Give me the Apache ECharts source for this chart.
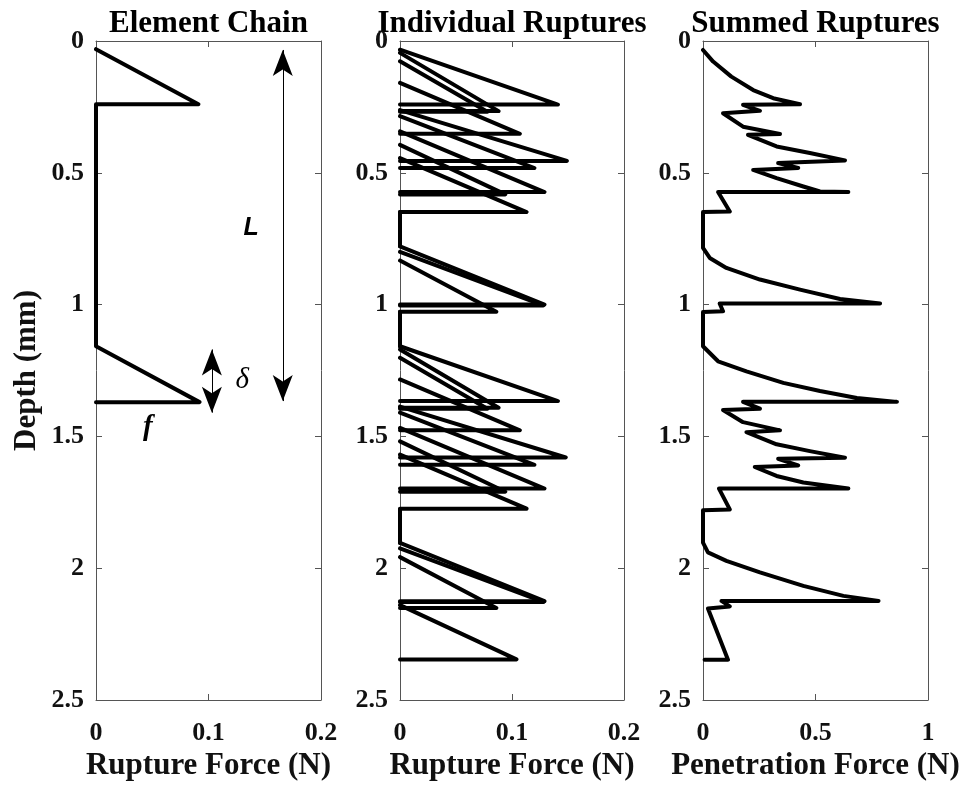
<!DOCTYPE html>
<html><head><meta charset="utf-8">
<script src="https://cdn.jsdelivr.net/npm/echarts/dist/echarts.min.js"></script>
<style>html,body{margin:0;padding:0;background:#fff}#c{width:963px;height:789px}</style>
</head><body><div id="c"></div><script>
// ---- data ----
const panelTitles = ['Element Chain', 'Individual Ruptures', 'Summed Ruptures'];
const xAxisNames = ['Rupture Force (N)', 'Rupture Force (N)', 'Penetration Force (N)'];
const xMax = [0.2, 0.2, 1];
const xStep = [0.1, 0.1, 0.5];
const depthMax = 2.5, depthStep = 0.5;

// panel 1: single element chain
const chainForce = [0, 0.091, 0, 0, 0.092, 0];
const chainDepth = [0.031, 0.240, 0.240, 1.158, 1.370, 1.370];

// panel 1 annotations (arrow tips in data units)
const arrowL = [0.166, 0.034, 1.366];   // x, tip top, tip bottom
const arrowDelta = [0.103, 1.170, 1.410];
const noteText = ['L', 'δ', 'f'];
const noteX = [0.138, 0.130, 0.046];
const noteY = [0.708, 1.288, 1.466];

// panel 2: individual ruptures (start depth -> peak force at peak depth -> back to 0)
const ruptureStart = [0.033, 0.045, 0.077, 0.159, 0.262, 0.285, 0.343, 0.394, 0.444,
                      0.779, 0.800, 0.833,
                      1.158, 1.170, 1.202, 1.284, 1.387, 1.410, 1.468, 1.519, 1.569,
                      1.904, 1.925, 1.958,
                      2.140];
const rupturePeak  = [0.241, 0.266, 0.268, 0.352, 0.455, 0.482, 0.573, 0.582, 0.649,
                      1.000, 1.003, 1.027,
                      1.366, 1.391, 1.395, 1.477, 1.580, 1.608, 1.698, 1.710, 1.774,
                      2.125, 2.128, 2.151,
                      2.346];
const ruptureForce = [0.141, 0.088, 0.078, 0.107, 0.149, 0.120, 0.129, 0.094, 0.113,
                      0.129, 0.128, 0.086,
                      0.141, 0.088, 0.078, 0.107, 0.148, 0.120, 0.129, 0.094, 0.113,
                      0.129, 0.128, 0.086,
                      0.104];
const zeroGapFrom = [0.649, 1.027, 1.776];
const zeroGapTo   = [0.779, 1.158, 1.904];

// panel 3: summed ruptures
const summedForce = [0, 0.045, 0.126, 0.223, 0.312, 0.431, 0.178, 0.253, 0.089, 0.178, 0.342, 0.200,
  0.327, 0.475, 0.631, 0.334, 0.423, 0.223, 0.327, 0.446, 0.520, 0.646, 0.067, 0.119, 0, 0,
  0.030, 0.104, 0.253, 0.431, 0.609, 0.787, 0.074, 0.089, 0, 0,
  0.067, 0.193, 0.357, 0.520, 0.684, 0.862, 0.178, 0.253, 0.089, 0.178, 0.342, 0.193,
  0.327, 0.475, 0.631, 0.334, 0.423, 0.230, 0.327, 0.446, 0.646, 0.071, 0.119, 0, 0,
  0.022, 0.104, 0.253, 0.446, 0.624, 0.780, 0.082, 0.119, 0.022, 0.111, 0.007];
const summedDepth = [0.034, 0.078, 0.135, 0.186, 0.217, 0.240, 0.242, 0.265, 0.274, 0.325, 0.353, 0.356,
  0.400, 0.425, 0.453, 0.463, 0.482, 0.489, 0.520, 0.552, 0.571, 0.573, 0.573, 0.647, 0.649, 0.785,
  0.823, 0.861, 0.905, 0.943, 0.979, 0.996, 0.996, 1.025, 1.028, 1.158,
  1.215, 1.253, 1.297, 1.328, 1.354, 1.369, 1.369, 1.395, 1.400, 1.446, 1.477, 1.484,
  1.530, 1.556, 1.581, 1.585, 1.610, 1.616, 1.650, 1.675, 1.698, 1.698, 1.777, 1.780, 1.903,
  1.940, 1.972, 2.016, 2.067, 2.105, 2.124, 2.124, 2.145, 2.153, 2.347, 2.347];

// ---- layout / style ----
const gridLeft = [96, 400, 703];
const gridWidth = [225, 224, 225];
const gridTop = 41, gridHeight = 659;
const axisColor = '#555555';
const textColor = '#111111';
const serif = 'Liberation Serif';
const LW = 4;

const chart = echarts.init(document.getElementById('c'), null, {renderer: 'canvas'});

const grids = [], xAxes = [], yAxes = [], series = [], graphics = [];
for (let i = 0; i < 3; i++) {
  grids.push({left: gridLeft[i], top: gridTop, width: gridWidth[i], height: gridHeight, containLabel: false});
  const tick = {show: true, inside: true, length: 6, lineStyle: {color: axisColor, width: 1}};
  const line = {show: true, onZero: false, lineStyle: {color: axisColor, width: 1}};
  xAxes.push({type: 'value', gridIndex: i, position: 'bottom', min: 0, max: xMax[i], interval: xStep[i],
    axisLine: line, axisTick: tick, splitLine: {show: false},
    axisLabel: {margin: 20, color: textColor, fontFamily: serif, fontWeight: 'bold', fontSize: 26},
    name: xAxisNames[i], nameLocation: 'middle', nameGap: 50,
    nameTextStyle: {color: textColor, fontFamily: serif, fontWeight: 'bold', fontSize: 31}});
  xAxes.push({type: 'value', gridIndex: i, position: 'top', min: 0, max: xMax[i], interval: xStep[i],
    axisLine: line, axisTick: tick, splitLine: {show: false}, axisLabel: {show: false}});
  const yLeft = {type: 'value', gridIndex: i, position: 'left', inverse: true, min: 0, max: depthMax, interval: depthStep,
    axisLine: line, axisTick: tick, splitLine: {show: false},
    axisLabel: {margin: 12, color: textColor, fontFamily: serif, fontWeight: 'bold', fontSize: 26}};
  if (i === 0) {
    Object.assign(yLeft, {name: 'Depth (mm)', nameLocation: 'middle', nameGap: 54, nameRotate: 90,
      nameTextStyle: {color: textColor, fontFamily: serif, fontWeight: 'bold', fontSize: 31}});
  }
  yAxes.push(yLeft);
  yAxes.push({type: 'value', gridIndex: i, position: 'right', inverse: true, min: 0, max: depthMax, interval: depthStep,
    axisLine: line, axisTick: tick, splitLine: {show: false}, axisLabel: {show: false}});
  graphics.push({type: 'text', x: gridLeft[i] + gridWidth[i] / 2, y: 24, silent: true,
    style: {text: panelTitles[i], align: 'center', verticalAlign: 'middle', fill: '#000',
      font: 'bold 31px "' + serif + '"'}});
}

const lineSeries = (gi, data, extra) => Object.assign({
  type: 'line', xAxisIndex: gi * 2, yAxisIndex: gi * 2, data: data, symbol: 'none',
  animation: false, silent: true, clip: false,
  lineStyle: {color: '#000', width: LW, cap: 'round', join: 'round'}
}, extra || {});

// panel 1
series.push(lineSeries(0, chainForce.map((f, k) => [f, chainDepth[k]]), {
  markLine: {silent: true, animation: false, symbol: ['arrow', 'arrow'], symbolSize: [15, 26],
    label: {show: false}, emphasis: {disabled: true},
    lineStyle: {color: '#000', width: 1, type: 'solid'},
    data: [
      [{coord: [arrowL[0], arrowL[1]]}, {coord: [arrowL[0], arrowL[2]]}],
      [{coord: [arrowDelta[0], arrowDelta[1]]}, {coord: [arrowDelta[0], arrowDelta[2]]}]
    ]}
}));
const noteStyles = [
  {fontFamily: 'Liberation Sans', fontStyle: 'italic', fontWeight: 'bold', fontSize: 25},
  {fontFamily: serif, fontStyle: 'italic', fontWeight: 'normal', fontSize: 29},
  {fontFamily: serif, fontStyle: 'italic', fontWeight: 'bold', fontSize: 29}
];
series.push({type: 'scatter', xAxisIndex: 0, yAxisIndex: 0, symbolSize: 1, silent: true, animation: false,
  itemStyle: {color: '#fff', opacity: 1},
  data: noteText.map((t, k) => ({value: [noteX[k], noteY[k]],
    label: Object.assign({show: true, position: 'inside', formatter: t, color: '#000',
      opacity: 1, textBorderWidth: 0}, noteStyles[k])}))});

// panel 2
for (let k = 0; k < ruptureStart.length; k++) {
  series.push(lineSeries(1, [[0, ruptureStart[k]], [ruptureForce[k], rupturePeak[k]], [0, rupturePeak[k]]]));
}
for (let k = 0; k < zeroGapFrom.length; k++) {
  series.push(lineSeries(1, [[0, zeroGapFrom[k]], [0, zeroGapTo[k]]]));
}

// panel 3
series.push(lineSeries(2, summedForce.map((f, k) => [f, summedDepth[k]])));

chart.setOption({
  animation: false,
  backgroundColor: '#fff',
  grid: grids, xAxis: xAxes, yAxis: yAxes, series: series, graphic: graphics
});
</script></body></html>
